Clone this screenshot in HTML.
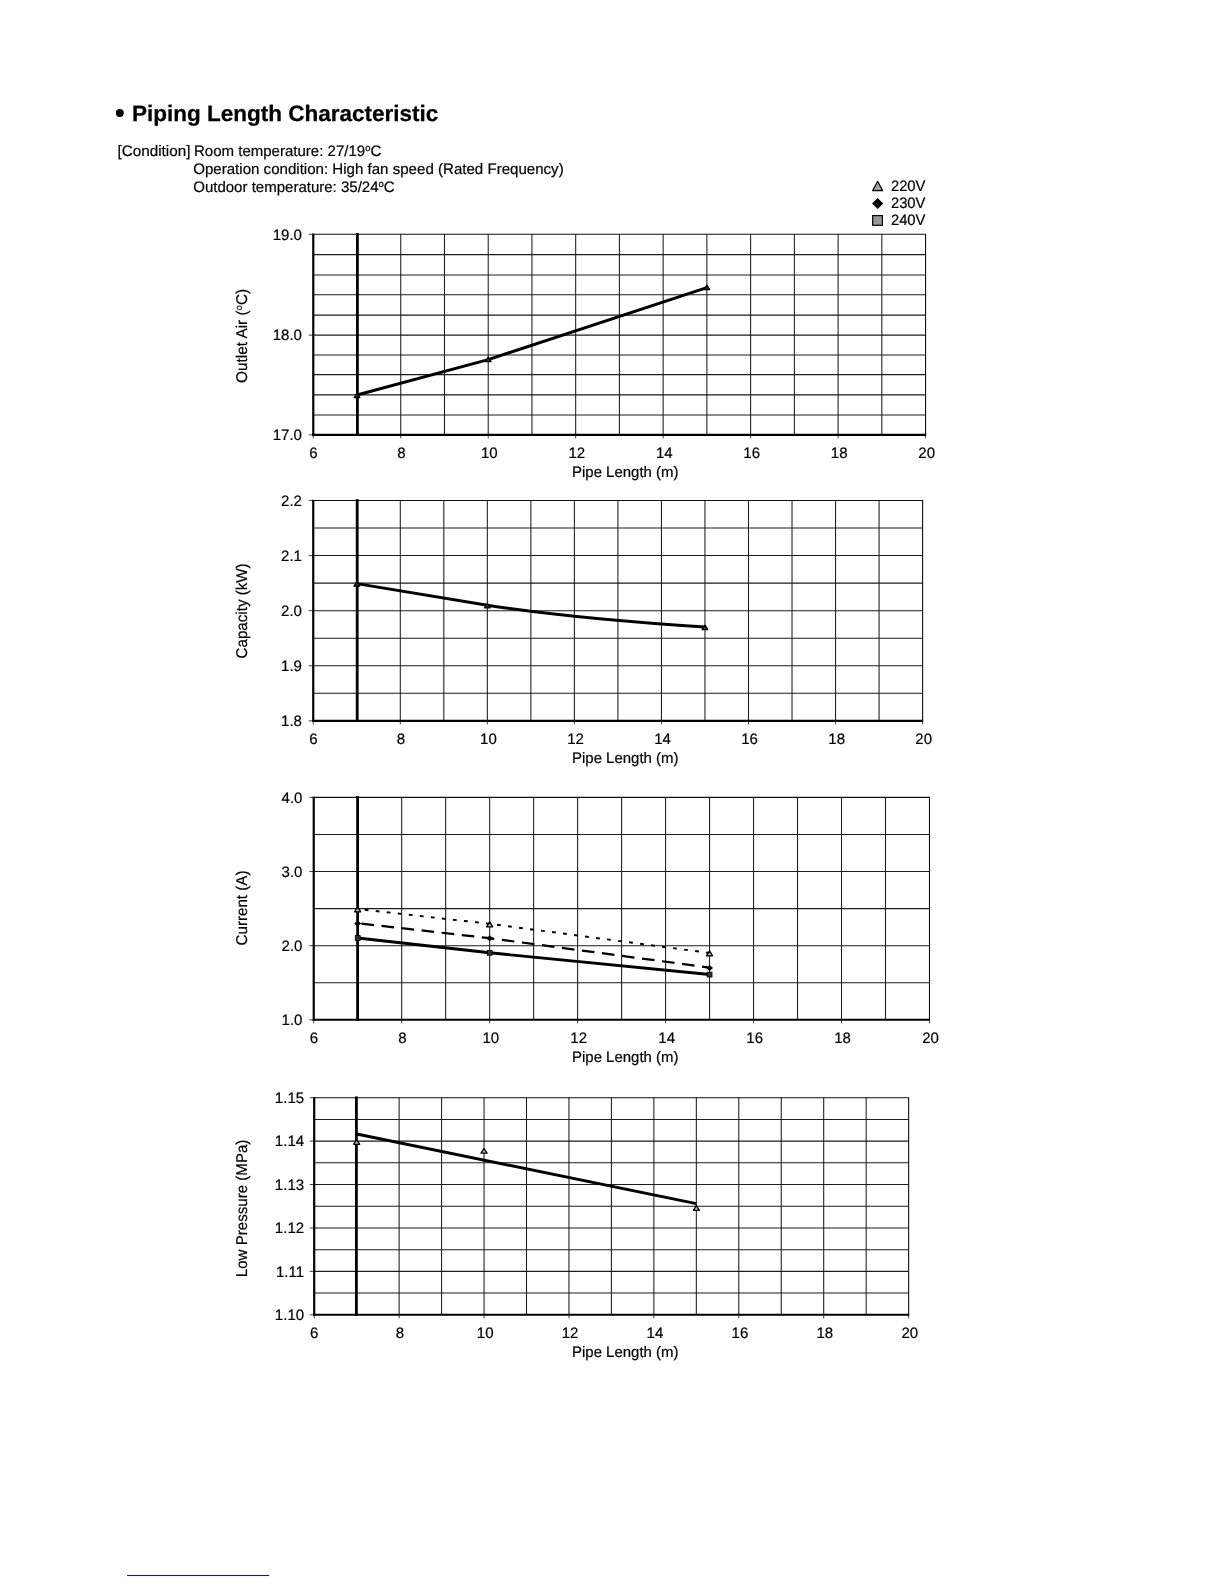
<!DOCTYPE html>
<html><head><meta charset="utf-8"><title>Piping Length Characteristic</title>
<style>
html,body{margin:0;padding:0;background:#fff;}
body{width:1224px;height:1584px;overflow:hidden;font-family:"Liberation Sans", sans-serif;}
svg{display:block;position:absolute;left:0;top:0;will-change:transform;}
svg text{font-family:"Liberation Sans", sans-serif;fill:#000;stroke:#000;stroke-width:0.2px;text-rendering:geometricPrecision;}
</style></head><body>
<svg width="1224" height="1584" viewBox="0 0 1224 1584">
<rect width="1224" height="1584" fill="#fff"/>
<circle cx="119.8" cy="113.0" r="3.95" fill="#000"/>
<text x="131.9" y="121.4" font-size="22.3" font-weight="bold" text-anchor="start" textLength="306.4" lengthAdjust="spacingAndGlyphs" style="stroke-width:0.25px">Piping Length Characteristic</text>
<text x="117.5" y="156.0" font-size="15.1" font-weight="normal" text-anchor="start" textLength="72.9" lengthAdjust="spacingAndGlyphs">[Condition]</text>
<text transform="translate(194.0 156.0) scale(0.995 1)" font-size="15.1" font-weight="normal" text-anchor="start">Room temperature: 27/19<tspan font-size="9.6" dy="-4.7">o</tspan><tspan dy="4.7">C</tspan></text>
<text x="193.2" y="173.9" font-size="15.1" font-weight="normal" text-anchor="start" textLength="370.5" lengthAdjust="spacingAndGlyphs">Operation condition: High fan speed (Rated Frequency)</text>
<text transform="translate(193.2 191.8) scale(0.995 1)" font-size="15.1" font-weight="normal" text-anchor="start">Outdoor temperature: 35/24<tspan font-size="9.6" dy="-4.7">o</tspan><tspan dy="4.7">C</tspan></text>
<path d="M872.65,190.60 L882.65,190.60 L877.65,181.30 Z" fill="#a0a0a0" stroke="#000" stroke-width="1.2" stroke-linejoin="round"/>
<path d="M872.05,203.50 L877.65,197.90 L883.25,203.50 L877.65,209.10 Z" fill="#000"/>
<rect x="872.70" y="215.60" width="9.70" height="9.70" fill="#999" stroke="#000" stroke-width="1.2"/>
<text x="890.9" y="191.1" font-size="15.1" font-weight="normal" text-anchor="start" textLength="34.6" lengthAdjust="spacingAndGlyphs">220V</text>
<text x="890.9" y="208.1" font-size="15.1" font-weight="normal" text-anchor="start" textLength="34.6" lengthAdjust="spacingAndGlyphs">230V</text>
<text x="890.9" y="225.1" font-size="15.1" font-weight="normal" text-anchor="start" textLength="34.6" lengthAdjust="spacingAndGlyphs">240V</text>
<path d="M400.74,234.30V434.85M444.47,234.30V434.85M488.21,234.30V434.85M531.94,234.30V434.85M575.68,234.30V434.85M619.41,234.30V434.85M663.15,234.30V434.85M706.88,234.30V434.85M750.62,234.30V434.85M794.36,234.30V434.85M838.09,234.30V434.85M881.82,234.30V434.85M313.27,254.60H925.56M313.27,274.90H925.56M313.27,294.80H925.56M313.27,315.10H925.56M313.27,335.10H925.56M313.27,354.90H925.56M313.27,374.60H925.56M313.27,394.85H925.56M313.27,414.90H925.56" stroke="#1c1c1c" stroke-width="1.05" fill="none"/>
<path d="M312.27,234.30H925.56V434.85" stroke="#111" stroke-width="1.1" fill="none"/>
<path d="M308.77,234.30H313.27M308.77,335.10H313.27M308.77,434.85H313.27M313.27,434.85V438.45M400.74,434.85V438.45M488.21,434.85V438.45M575.68,434.85V438.45M663.15,434.85V438.45M750.62,434.85V438.45M838.09,434.85V438.45M925.56,434.85V438.45" stroke="#444" stroke-width="1" fill="none"/>
<path d="M313.27,233.70V435.95" stroke="#000" stroke-width="2.2" fill="none"/>
<path d="M312.27,434.85H926.16" stroke="#000" stroke-width="2.05" fill="none"/>
<path d="M357.40,233.00V435.95" stroke="#000" stroke-width="2.8" fill="none"/>
<text transform="translate(301.97 239.6) scale(0.995 1)" font-size="15.1" font-weight="normal" text-anchor="end">19.0</text>
<text transform="translate(301.97 340.4) scale(0.995 1)" font-size="15.1" font-weight="normal" text-anchor="end">18.0</text>
<text transform="translate(301.97 440.15) scale(0.995 1)" font-size="15.1" font-weight="normal" text-anchor="end">17.0</text>
<text transform="translate(313.37 457.65) scale(0.995 1)" font-size="15.1" font-weight="normal" text-anchor="middle">6</text>
<text transform="translate(401.44 457.65) scale(0.995 1)" font-size="15.1" font-weight="normal" text-anchor="middle">8</text>
<text transform="translate(489.31 457.65) scale(0.995 1)" font-size="15.1" font-weight="normal" text-anchor="middle">10</text>
<text transform="translate(576.78 457.65) scale(0.995 1)" font-size="15.1" font-weight="normal" text-anchor="middle">12</text>
<text transform="translate(664.25 457.65) scale(0.995 1)" font-size="15.1" font-weight="normal" text-anchor="middle">14</text>
<text transform="translate(751.72 457.65) scale(0.995 1)" font-size="15.1" font-weight="normal" text-anchor="middle">16</text>
<text transform="translate(839.19 457.65) scale(0.995 1)" font-size="15.1" font-weight="normal" text-anchor="middle">18</text>
<text transform="translate(926.66 457.65) scale(0.995 1)" font-size="15.1" font-weight="normal" text-anchor="middle">20</text>
<text x="572.0" y="476.85" font-size="15.1" font-weight="normal" text-anchor="start" textLength="106.5" lengthAdjust="spacingAndGlyphs">Pipe Length (m)</text>
<text transform="translate(246.6,335.90) rotate(-90)" font-size="15.6" text-anchor="middle" textLength="94.0" lengthAdjust="spacingAndGlyphs">Outlet Air (<tspan font-size="9.6" dy="-4.7">o</tspan><tspan dy="4.7">C)</tspan></text>
<path d="M400.29,500.45V720.85M443.82,500.45V720.85M487.34,500.45V720.85M530.87,500.45V720.85M574.39,500.45V720.85M617.92,500.45V720.85M661.45,500.45V720.85M704.97,500.45V720.85M748.50,500.45V720.85M792.02,500.45V720.85M835.55,500.45V720.85M879.07,500.45V720.85M313.24,528.00H922.60M313.24,555.55H922.60M313.24,583.10H922.60M313.24,610.65H922.60M313.24,638.20H922.60M313.24,665.75H922.60M313.24,693.30H922.60" stroke="#1c1c1c" stroke-width="1.05" fill="none"/>
<path d="M312.24,500.45H922.60V720.85" stroke="#111" stroke-width="1.1" fill="none"/>
<path d="M308.74,500.45H313.24M308.74,555.55H313.24M308.74,610.65H313.24M308.74,665.75H313.24M308.74,720.85H313.24M313.24,720.85V724.45M400.29,720.85V724.45M487.34,720.85V724.45M574.39,720.85V724.45M661.45,720.85V724.45M748.50,720.85V724.45M835.55,720.85V724.45M922.60,720.85V724.45" stroke="#444" stroke-width="1" fill="none"/>
<path d="M313.24,499.85V721.95" stroke="#000" stroke-width="2.2" fill="none"/>
<path d="M312.24,720.85H923.20" stroke="#000" stroke-width="2.05" fill="none"/>
<path d="M357.20,499.15V721.95" stroke="#000" stroke-width="2.8" fill="none"/>
<text transform="translate(301.94 505.75) scale(0.995 1)" font-size="15.1" font-weight="normal" text-anchor="end">2.2</text>
<text transform="translate(301.94 560.85) scale(0.995 1)" font-size="15.1" font-weight="normal" text-anchor="end">2.1</text>
<text transform="translate(301.94 615.95) scale(0.995 1)" font-size="15.1" font-weight="normal" text-anchor="end">2.0</text>
<text transform="translate(301.94 671.05) scale(0.995 1)" font-size="15.1" font-weight="normal" text-anchor="end">1.9</text>
<text transform="translate(301.94 726.15) scale(0.995 1)" font-size="15.1" font-weight="normal" text-anchor="end">1.8</text>
<text transform="translate(313.34 743.65) scale(0.995 1)" font-size="15.1" font-weight="normal" text-anchor="middle">6</text>
<text transform="translate(400.99 743.65) scale(0.995 1)" font-size="15.1" font-weight="normal" text-anchor="middle">8</text>
<text transform="translate(488.44 743.65) scale(0.995 1)" font-size="15.1" font-weight="normal" text-anchor="middle">10</text>
<text transform="translate(575.49 743.65) scale(0.995 1)" font-size="15.1" font-weight="normal" text-anchor="middle">12</text>
<text transform="translate(662.55 743.65) scale(0.995 1)" font-size="15.1" font-weight="normal" text-anchor="middle">14</text>
<text transform="translate(749.6 743.65) scale(0.995 1)" font-size="15.1" font-weight="normal" text-anchor="middle">16</text>
<text transform="translate(836.65 743.65) scale(0.995 1)" font-size="15.1" font-weight="normal" text-anchor="middle">18</text>
<text transform="translate(923.7 743.65) scale(0.995 1)" font-size="15.1" font-weight="normal" text-anchor="middle">20</text>
<text x="572.0" y="762.85" font-size="15.1" font-weight="normal" text-anchor="start" textLength="106.5" lengthAdjust="spacingAndGlyphs">Pipe Length (m)</text>
<text transform="translate(246.6,610.90) rotate(-90)" font-size="15.6" text-anchor="middle" textLength="95.0" lengthAdjust="spacingAndGlyphs">Capacity (kW)</text>
<path d="M401.69,797.40V1019.84M445.68,797.40V1019.84M489.66,797.40V1019.84M533.64,797.40V1019.84M577.62,797.40V1019.84M621.61,797.40V1019.84M665.59,797.40V1019.84M709.57,797.40V1019.84M753.55,797.40V1019.84M797.53,797.40V1019.84M841.52,797.40V1019.84M885.50,797.40V1019.84M313.73,834.47H929.48M313.73,871.55H929.48M313.73,908.62H929.48M313.73,945.69H929.48M313.73,982.77H929.48" stroke="#1c1c1c" stroke-width="1.05" fill="none"/>
<path d="M312.73,797.40H929.48V1019.84" stroke="#111" stroke-width="1.1" fill="none"/>
<path d="M309.23,797.40H313.73M309.23,871.55H313.73M309.23,945.69H313.73M309.23,1019.84H313.73M313.73,1019.84V1023.44M401.69,1019.84V1023.44M489.66,1019.84V1023.44M577.62,1019.84V1023.44M665.59,1019.84V1023.44M753.55,1019.84V1023.44M841.52,1019.84V1023.44M929.48,1019.84V1023.44" stroke="#444" stroke-width="1" fill="none"/>
<path d="M313.73,796.80V1020.94" stroke="#000" stroke-width="2.2" fill="none"/>
<path d="M312.73,1019.84H930.08" stroke="#000" stroke-width="2.05" fill="none"/>
<path d="M357.60,796.10V1020.94" stroke="#000" stroke-width="2.8" fill="none"/>
<text transform="translate(302.43 802.7) scale(0.995 1)" font-size="15.1" font-weight="normal" text-anchor="end">4.0</text>
<text transform="translate(302.43 876.85) scale(0.995 1)" font-size="15.1" font-weight="normal" text-anchor="end">3.0</text>
<text transform="translate(302.43 950.99) scale(0.995 1)" font-size="15.1" font-weight="normal" text-anchor="end">2.0</text>
<text transform="translate(302.43 1025.14) scale(0.995 1)" font-size="15.1" font-weight="normal" text-anchor="end">1.0</text>
<text transform="translate(313.83 1042.64) scale(0.995 1)" font-size="15.1" font-weight="normal" text-anchor="middle">6</text>
<text transform="translate(402.39 1042.64) scale(0.995 1)" font-size="15.1" font-weight="normal" text-anchor="middle">8</text>
<text transform="translate(490.76 1042.64) scale(0.995 1)" font-size="15.1" font-weight="normal" text-anchor="middle">10</text>
<text transform="translate(578.72 1042.64) scale(0.995 1)" font-size="15.1" font-weight="normal" text-anchor="middle">12</text>
<text transform="translate(666.69 1042.64) scale(0.995 1)" font-size="15.1" font-weight="normal" text-anchor="middle">14</text>
<text transform="translate(754.65 1042.64) scale(0.995 1)" font-size="15.1" font-weight="normal" text-anchor="middle">16</text>
<text transform="translate(842.62 1042.64) scale(0.995 1)" font-size="15.1" font-weight="normal" text-anchor="middle">18</text>
<text transform="translate(930.58 1042.64) scale(0.995 1)" font-size="15.1" font-weight="normal" text-anchor="middle">20</text>
<text x="572.0" y="1061.84" font-size="15.1" font-weight="normal" text-anchor="start" textLength="106.5" lengthAdjust="spacingAndGlyphs">Pipe Length (m)</text>
<text transform="translate(246.6,908.00) rotate(-90)" font-size="15.6" text-anchor="middle" textLength="75.0" lengthAdjust="spacingAndGlyphs">Current (A)</text>
<path d="M399.12,1097.70V1314.80M441.58,1097.70V1314.80M484.04,1097.70V1314.80M526.50,1097.70V1314.80M568.96,1097.70V1314.80M611.41,1097.70V1314.80M653.87,1097.70V1314.80M696.33,1097.70V1314.80M738.79,1097.70V1314.80M781.25,1097.70V1314.80M823.71,1097.70V1314.80M866.17,1097.70V1314.80M314.20,1119.41H908.63M314.20,1141.12H908.63M314.20,1162.83H908.63M314.20,1184.54H908.63M314.20,1206.25H908.63M314.20,1227.96H908.63M314.20,1249.67H908.63M314.20,1271.38H908.63M314.20,1293.09H908.63" stroke="#1c1c1c" stroke-width="1.05" fill="none"/>
<path d="M313.20,1097.70H908.63V1314.80" stroke="#111" stroke-width="1.1" fill="none"/>
<path d="M309.70,1097.70H314.20M309.70,1141.12H314.20M309.70,1184.54H314.20M309.70,1227.96H314.20M309.70,1271.38H314.20M309.70,1314.80H314.20M314.20,1314.80V1318.40M399.12,1314.80V1318.40M484.04,1314.80V1318.40M568.96,1314.80V1318.40M653.87,1314.80V1318.40M738.79,1314.80V1318.40M823.71,1314.80V1318.40M908.63,1314.80V1318.40" stroke="#444" stroke-width="1" fill="none"/>
<path d="M314.20,1097.10V1315.90" stroke="#000" stroke-width="2.2" fill="none"/>
<path d="M313.20,1314.80H909.23" stroke="#000" stroke-width="2.05" fill="none"/>
<path d="M356.40,1096.40V1315.90" stroke="#000" stroke-width="2.8" fill="none"/>
<text transform="translate(304.1 1103.0) scale(0.995 1)" font-size="15.1" font-weight="normal" text-anchor="end">1.15</text>
<text transform="translate(304.1 1146.42) scale(0.995 1)" font-size="15.1" font-weight="normal" text-anchor="end">1.14</text>
<text transform="translate(304.1 1189.84) scale(0.995 1)" font-size="15.1" font-weight="normal" text-anchor="end">1.13</text>
<text transform="translate(304.1 1233.26) scale(0.995 1)" font-size="15.1" font-weight="normal" text-anchor="end">1.12</text>
<text transform="translate(304.1 1276.68) scale(0.995 1)" font-size="15.1" font-weight="normal" text-anchor="end">1.11</text>
<text transform="translate(304.1 1320.1) scale(0.995 1)" font-size="15.1" font-weight="normal" text-anchor="end">1.10</text>
<text transform="translate(314.3 1337.6) scale(0.995 1)" font-size="15.1" font-weight="normal" text-anchor="middle">6</text>
<text transform="translate(399.82 1337.6) scale(0.995 1)" font-size="15.1" font-weight="normal" text-anchor="middle">8</text>
<text transform="translate(485.14 1337.6) scale(0.995 1)" font-size="15.1" font-weight="normal" text-anchor="middle">10</text>
<text transform="translate(570.06 1337.6) scale(0.995 1)" font-size="15.1" font-weight="normal" text-anchor="middle">12</text>
<text transform="translate(654.97 1337.6) scale(0.995 1)" font-size="15.1" font-weight="normal" text-anchor="middle">14</text>
<text transform="translate(739.89 1337.6) scale(0.995 1)" font-size="15.1" font-weight="normal" text-anchor="middle">16</text>
<text transform="translate(824.81 1337.6) scale(0.995 1)" font-size="15.1" font-weight="normal" text-anchor="middle">18</text>
<text transform="translate(909.73 1337.6) scale(0.995 1)" font-size="15.1" font-weight="normal" text-anchor="middle">20</text>
<text x="572.0" y="1356.8" font-size="15.1" font-weight="normal" text-anchor="start" textLength="106.5" lengthAdjust="spacingAndGlyphs">Pipe Length (m)</text>
<text transform="translate(246.6,1208.40) rotate(-90)" font-size="15.6" text-anchor="middle" textLength="137.6" lengthAdjust="spacingAndGlyphs">Low Pressure (MPa)</text>
<path d="M357.00,395.0 L488.21,359.6 L706.88,287.6" stroke="#000" stroke-width="3.0" fill="none" stroke-linejoin="round"/>
<path d="M354.11,397.60 L359.90,397.60 L357.00,393.20 Z" fill="#333" stroke="#000" stroke-width="1.2" stroke-linejoin="round"/>
<path d="M485.31,361.60 L491.11,361.60 L488.21,357.20 Z" fill="#333" stroke="#000" stroke-width="1.2" stroke-linejoin="round"/>
<path d="M703.99,289.60 L709.78,289.60 L706.88,285.20 Z" fill="#333" stroke="#000" stroke-width="1.2" stroke-linejoin="round"/>
<path d="M356.77,583.6 Q422.05,594.6 487.34,605.2 Q574.39,618.5 704.97,627.0" stroke="#000" stroke-width="2.9" fill="none"/>
<path d="M353.87,586.20 L359.67,586.20 L356.77,581.80 Z" fill="#333" stroke="#000" stroke-width="1.2" stroke-linejoin="round"/>
<path d="M484.44,607.80 L490.24,607.80 L487.34,603.40 Z" fill="#333" stroke="#000" stroke-width="1.2" stroke-linejoin="round"/>
<path d="M702.07,629.60 L707.87,629.60 L704.97,625.20 Z" fill="#333" stroke="#000" stroke-width="1.2" stroke-linejoin="round"/>
<path d="M360.71,909.3 L489.66,923.8 L709.57,953.0" stroke="#000" stroke-width="1.95" fill="none" stroke-dasharray="3.8 7.3" stroke-dashoffset="-4"/>
<path d="M357.71,923.2 L489.66,938.2 L709.57,967.6" stroke="#000" stroke-width="2.25" fill="none" stroke-dasharray="12.6 7.6" stroke-dashoffset="-3.7"/>
<path d="M357.71,938.0 L489.66,952.8 L709.57,974.5" stroke="#000" stroke-width="2.9" fill="none"/>
<path d="M354.66,911.85 L360.76,911.85 L357.71,906.95 Z" fill="#b4b4b4" stroke="#000" stroke-width="1.25" stroke-linejoin="round"/>
<path d="M486.61,926.85 L492.71,926.85 L489.66,921.95 Z" fill="#b4b4b4" stroke="#000" stroke-width="1.25" stroke-linejoin="round"/>
<path d="M706.52,955.85 L712.62,955.85 L709.57,950.95 Z" fill="#b4b4b4" stroke="#000" stroke-width="1.25" stroke-linejoin="round"/>
<path d="M354.21,923.40 L357.71,920.40 L361.21,923.40 L357.71,926.40 Z" fill="#000"/>
<path d="M486.16,938.20 L489.66,935.20 L493.16,938.20 L489.66,941.20 Z" fill="#000"/>
<path d="M706.07,968.00 L709.57,965.00 L713.07,968.00 L709.57,971.00 Z" fill="#000"/>
<rect x="355.31" y="935.60" width="4.80" height="4.80" fill="#333" stroke="#000" stroke-width="0.9"/>
<rect x="487.26" y="950.40" width="4.80" height="4.80" fill="#333" stroke="#000" stroke-width="0.9"/>
<rect x="707.17" y="972.20" width="4.80" height="4.80" fill="#333" stroke="#000" stroke-width="0.9"/>
<path d="M356.66,1134.0 L696.33,1203.7" stroke="#000" stroke-width="2.9" fill="none"/>
<path d="M353.61,1144.30 L359.71,1144.30 L356.66,1139.70 Z" fill="#bbb" stroke="#000" stroke-width="1.3" stroke-linejoin="round"/>
<path d="M480.99,1153.20 L487.09,1153.20 L484.04,1148.60 Z" fill="#bbb" stroke="#000" stroke-width="1.3" stroke-linejoin="round"/>
<path d="M693.28,1210.30 L699.38,1210.30 L696.33,1205.70 Z" fill="#bbb" stroke="#000" stroke-width="1.3" stroke-linejoin="round"/>
<rect x="127" y="1574.95" width="142.2" height="1.1" fill="#1a1a90"/>
</svg></body></html>
